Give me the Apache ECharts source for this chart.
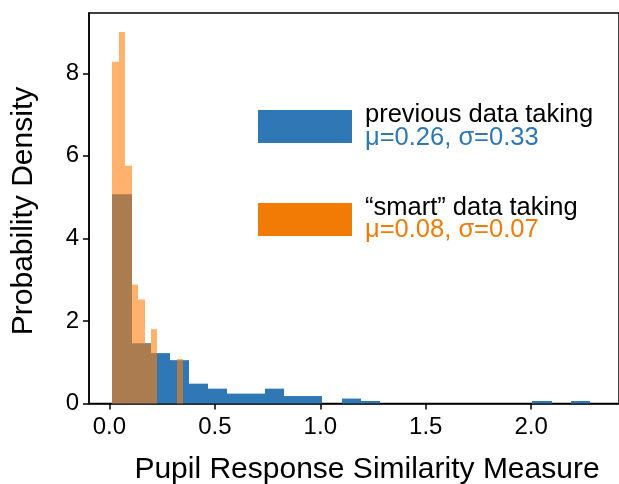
<!DOCTYPE html>
<html>
<head>
<meta charset="utf-8">
<script src="https://cdn.jsdelivr.net/npm/echarts@6/dist/echarts.min.js"></script>
<style>
  html, body { margin: 0; padding: 0; background: #fff; }
  #chart { width: 619px; height: 484px; }
</style>
</head>
<body>
<div id="chart"></div>
<script>
// ---- data ----
const blueEdges = [0.014, 0.105, 0.195, 0.286, 0.376, 0.467, 0.557, 0.648, 0.739, 0.829, 0.920, 1.010, 1.101,
                   1.191, 1.282, 1.372, 1.463, 1.554, 1.644, 1.735, 1.825, 1.916, 2.006, 2.097, 2.187, 2.278];
const blueDensity = [5.07, 1.46, 1.22, 1.05, 0.48, 0.36, 0.24, 0.24, 0.36, 0.18, 0.18, 0, 0.12,
                     0.06, 0, 0, 0, 0, 0, 0, 0, 0, 0.06, 0, 0.06];
const orangeEdges = [0.014, 0.045, 0.075, 0.106, 0.136, 0.167, 0.198, 0.228, 0.259, 0.289, 0.320, 0.351];
const orangeDensity = [8.28, 9.0, 5.76, 2.88, 2.52, 1.44, 1.8, 0, 0, 0, 1.08];

const xTicks = [0, 0.5, 1.0, 1.5, 2.0];
const yTicks = [0, 2, 4, 6, 8];

const seriesNames = ['previous data taking', '\u201csmart\u201d data taking'];
const seriesStats = ['\u03bc=0.26, \u03c3=0.33', '\u03bc=0.08, \u03c3=0.07'];

const xLabel = 'Pupil Response Similarity Measure';
const yLabel = 'Probability Density';

// ---- styling ----
const BLUE = '#2f78b5';
const ORANGE = '#ff7f0e';
const ORANGE_SOLID = '#f27b06';
const FONT = '"Liberation Sans", Arial, Helvetica, sans-serif';

function toBins(edges, heights) {
  const out = [];
  for (let i = 0; i < heights.length; i++) {
    if (heights[i] > 0) out.push([edges[i], edges[i + 1], heights[i]]);
  }
  return out;
}

function makeRender(color, opacity) {
  return function (params, api) {
    const x0 = api.value(0), x1 = api.value(1), h = api.value(2);
    const pTop = api.coord([x0, h]);
    const pBot = api.coord([x1, 0]);
    const left = Math.round(pTop[0]);
    const right = Math.round(pBot[0]);
    return {
      type: 'rect',
      shape: { x: left, y: pTop[1], width: right - left, height: pBot[1] - pTop[1] },
      style: { fill: color, opacity: opacity }
    };
  };
}

const chart = echarts.init(document.getElementById('chart'), null, { renderer: 'canvas' });

const option = {
  backgroundColor: '#fff',
  animation: false,
  grid: {
    left: 89, top: 13, right: -15, bottom: 80.5,
    show: true, borderColor: '#000', borderWidth: 1.5, backgroundColor: 'transparent'
  },
  xAxis: {
    type: 'value',
    min: -0.0968, max: 2.4165,
    splitLine: { show: false },
    axisLine: { show: true, onZero: false, lineStyle: { color: '#000', width: 1.5 } },
    axisTick: { show: true, length: 6, lineStyle: { color: '#000', width: 1.5 }, customValues: xTicks },
    axisLabel: {
      customValues: xTicks, margin: 12, color: '#000', fontSize: 24, fontFamily: FONT,
      formatter: v => v.toFixed(1)
    }
  },
  yAxis: {
    type: 'value',
    min: 0, max: 9.46,
    splitLine: { show: false },
    axisLine: { show: true, onZero: false, lineStyle: { color: '#000', width: 1.5 } },
    axisTick: { show: true, length: 6, lineStyle: { color: '#000', width: 1.5 }, customValues: yTicks },
    axisLabel: {
      customValues: yTicks, margin: 10, color: '#000', fontSize: 24, fontFamily: FONT,
      formatter: v => String(Math.round(v))
    }
  },
  series: [
    {
      type: 'custom', name: seriesNames[0],
      renderItem: makeRender(BLUE, 1),
      encode: { x: [0, 1], y: 2 },
      data: toBins(blueEdges, blueDensity),
      z: 2
    },
    {
      type: 'custom', name: seriesNames[1],
      renderItem: makeRender(ORANGE, 0.6),
      encode: { x: [0, 1], y: 2 },
      data: toBins(orangeEdges, orangeDensity),
      z: 3
    }
  ],
  graphic: [
    { type: 'rect', left: 258, top: 110, shape: { width: 94, height: 33 }, style: { fill: BLUE } },
    { type: 'rect', left: 258, top: 203, shape: { width: 94, height: 33 }, style: { fill: ORANGE_SOLID } },
    { type: 'text', x: 365, y: 115, style: { text: seriesNames[0], fill: '#000', font: '25.5px ' + FONT, verticalAlign: 'middle', align: 'left' } },
    { type: 'text', x: 365, y: 137.5, style: { text: seriesStats[0], fill: BLUE, font: '25.5px ' + FONT, verticalAlign: 'middle', align: 'left' } },
    { type: 'text', x: 365, y: 207.5, style: { text: seriesNames[1], fill: '#000', font: '25.5px ' + FONT, verticalAlign: 'middle', align: 'left' } },
    { type: 'text', x: 365, y: 230, style: { text: seriesStats[1], fill: ORANGE_SOLID, font: '25.5px ' + FONT, verticalAlign: 'middle', align: 'left' } },
    { type: 'text', x: 367, y: 469.6, style: { text: xLabel, fill: '#000', font: '30px ' + FONT, verticalAlign: 'middle', align: 'center' } },
    { type: 'text', x: 23.5, y: 211, rotation: Math.PI / 2, style: { text: yLabel, fill: '#000', font: '30px ' + FONT, verticalAlign: 'middle', align: 'center' } }
  ]
};

chart.setOption(option);
</script>
</body>
</html>
